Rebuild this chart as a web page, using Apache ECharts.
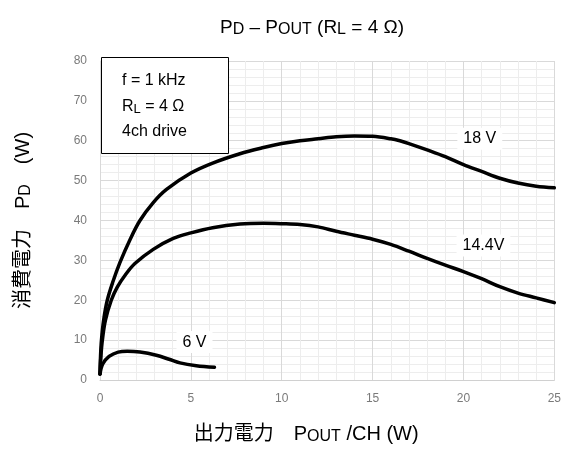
<!DOCTYPE html>
<html><head><meta charset="utf-8">
<script src="https://cdn.jsdelivr.net/npm/echarts@6/dist/echarts.min.js"></script>
<style>html,body{margin:0;padding:0;background:#fff}#c{width:564px;height:450px}</style>
</head><body><div id="c"></div>
<script>
// ---- data ----
const xTicks = [0, 5, 10, 15, 20, 25];
const yTicks = [0, 10, 20, 30, 40, 50, 60, 70, 80];
const seriesNames = ['18 V', '14.4V', '6 V'];

const x18 = [0, 0.03, 0.08, 0.2, 0.4, 0.7, 1.1, 1.65, 2.2, 2.93, 3.66, 5, 6.2, 7.7, 9, 10, 11, 12, 13, 14, 15, 16, 16.5, 17, 18, 19, 20, 21, 22, 23, 24, 25];
const y18 = [1.5, 6, 10, 15, 20, 24.5, 29.5, 35.2, 40, 44.5, 47.8, 51.9, 54.4, 56.75, 58.3, 59.3, 60, 60.5, 61, 61.2, 61.1, 60.5, 60, 59.3, 57.7, 56, 54, 52.3, 50.6, 49.4, 48.6, 48.2];

const x144 = [0, 0.05, 0.13, 0.3, 0.62, 0.95, 1.4, 1.92, 2.93, 4.03, 5, 6.2, 7.7, 9, 10, 11, 12, 13, 14, 15, 16, 17, 18, 19, 20, 21, 22, 23, 24, 25];
const y144 = [1.5, 6, 10, 15, 20, 23.3, 26.4, 29.2, 32.75, 35.5, 36.9, 38.2, 39.1, 39.3, 39.2, 39, 38.4, 37.3, 36.3, 35.3, 34, 32.3, 30.5, 28.8, 27.2, 25.4, 23.4, 21.8, 20.6, 19.4];

const x6 = [0, 0.15, 0.5, 1.0, 1.5, 2.2, 3.1, 3.8, 4.4, 5.3, 6.3];
const y6 = [1.5, 4.0, 5.9, 7.0, 7.2, 7.0, 6.2, 5.2, 4.3, 3.6, 3.2];

// curve label anchor points (data coords)
const labelX = [20.9, 21.1, 5.2];
const labelY = [60.5, 33.75, 9.5];

const infoLines = ['f = 1 kHz', '{a|R}{s|L}{a| = 4 Ω}', '4ch drive'];

// ---- chart ----
const FONT = '"Liberation Sans", Arial, "Noto Sans CJK JP", sans-serif';
const zip = (xs, ys) => xs.map((x, i) => [x, ys[i]]);
const allX = [x18, x144, x6];
const allY = [y18, y144, y6];

const chart = echarts.init(document.getElementById('c'), null, {renderer: 'canvas'});

const series = seriesNames.map((name, i) => ({
  type: 'line',
  name: name,
  data: zip(allX[i], allY[i]),
  showSymbol: false,
  symbol: 'none',
  smooth: 0.35,
  silent: true,
  lineStyle: {color: '#000', width: 3.5, cap: 'round', join: 'round'},
  markPoint: {
    symbol: 'rect',
    symbolSize: 1,
    itemStyle: {color: 'rgba(0,0,0,0)'},
    silent: true,
    data: [{coord: [labelX[i], labelY[i]], value: name}],
    label: {
      show: true, position: 'inside', formatter: name,
      color: '#000', fontSize: 16, fontFamily: FONT,
      backgroundColor: '#fff', padding: [3, 6]
    }
  }
}));

const subRich = {
  n: {fontSize: 19, fontFamily: FONT, color: '#000', fontWeight: 'normal'},
  s: {fontSize: 16, fontFamily: FONT, color: '#000', fontWeight: 'normal', padding: [5, 0, 0, 0]}
};

chart.setOption({
  animation: false,
  backgroundColor: '#fff',
  textStyle: {fontFamily: FONT},
  title: {
    text: '{n|P}{s|D}{n| – P}{s|OUT}{n| (R}{s|L}{n| = 4 Ω)}',
    left: 307, top: 12, textAlign: 'center',
    textStyle: {fontWeight: 'normal', rich: subRich}
  },
  grid: {left: 100, right: 7, top: 61, bottom: 69},
  xAxis: {
    type: 'value', min: xTicks[0], max: xTicks[xTicks.length - 1], interval: 5,
    name: '出力電力　P{s|OUT} /CH (W)',
    nameLocation: 'middle', nameGap: 43,
    nameTextStyle: {fontSize: 20, color: '#000', fontFamily: FONT, padding: [0, 42, 0, 0],
      rich: {s: {fontSize: 16, fontFamily: FONT, color: '#000', padding: [6, 0, 0, 0]}}},
    axisLine: {show: true, lineStyle: {color: '#d0d0d0', width: 1}},
    axisTick: {show: false},
    axisLabel: {color: '#7a7a7a', fontSize: 12, margin: 13, fontFamily: FONT},
    splitLine: {show: true, lineStyle: {color: '#d9d9d9', width: 1}},
    minorTick: {show: false, splitNumber: 5},
    minorSplitLine: {show: true, lineStyle: {color: '#ededed', width: 1}}
  },
  yAxis: {
    type: 'value', min: yTicks[0], max: yTicks[yTicks.length - 1], interval: 10,
    name: '消費電力　P{s|D}　(W)',
    nameLocation: 'middle', nameGap: 66, nameRotate: 90,
    nameTextStyle: {fontSize: 20, color: '#000', fontFamily: FONT,
      rich: {s: {fontSize: 16, fontFamily: FONT, color: '#000', padding: [6, 0, 0, 0]}}},
    axisLine: {show: true, lineStyle: {color: '#d9d9d9', width: 1}},
    axisTick: {show: false},
    axisLabel: {color: '#7a7a7a', fontSize: 12, margin: 13, fontFamily: FONT},
    splitLine: {show: true, lineStyle: {color: '#d9d9d9', width: 1}},
    minorTick: {show: false, splitNumber: 5},
    minorSplitLine: {show: true, lineStyle: {color: '#ededed', width: 1}}
  },
  graphic: [
    {type: 'rect', z: 100, shape: {x: 101.5, y: 57.5, width: 127, height: 96},
      style: {fill: '#fff', stroke: '#000', lineWidth: 1}},
  ].concat(infoLines.map((t, i) => ({
    type: 'text', z: 101, x: 122, y: 81 + i * 25.5,
    style: {text: t, fill: '#000', font: '16px ' + FONT, verticalAlign: 'middle', align: 'left',
      rich: {a: {fontSize: 16, fontFamily: FONT, color: '#000'},
             s: {fontSize: 13, fontFamily: FONT, color: '#000', padding: [5, 0, 0, 0]}}}
  }))),
  series: series
});
</script></body></html>
